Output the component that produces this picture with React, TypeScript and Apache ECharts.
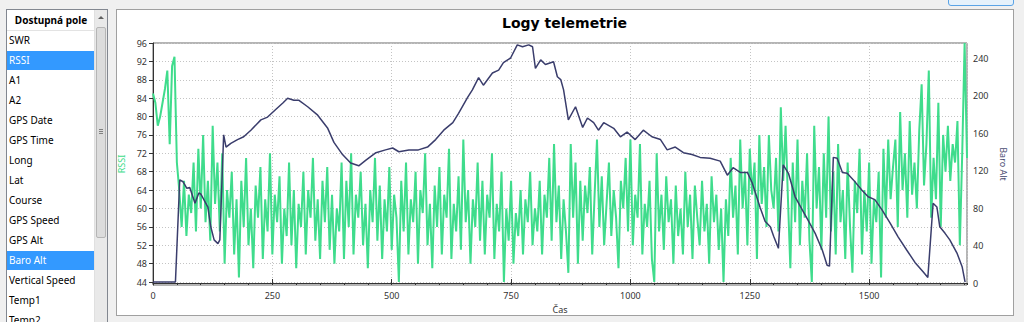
import React, { useEffect, useRef } from "react";
import * as echarts from "echarts";

// ---- data ----
const fields = ["SWR", "RSSI", "A1", "A2", "GPS Date", "GPS Time", "Long", "Lat", "Course", "GPS Speed", "GPS Alt", "Baro Alt", "Vertical Speed", "Temp1", "Temp2"];
const selectedFields = ["RSSI", "Baro Alt"];

const rssiStep = 5; // sampling interval of the RSSI log (time units)
const rssi = [
  85, 83, 78, 80, 83, 86, 90, 74, 91, 93, 70, 64, 56, 66, 54, 63, 59, 70, 55, 73,
  60, 76, 57, 66, 53, 78, 61, 70, 55, 72, 48, 64, 58, 68, 50, 62, 45, 66, 56, 71,
  52, 60, 47, 65, 58, 69, 49, 62, 55, 72, 50, 63, 57, 67, 48, 60, 54, 70, 52, 64,
  47, 61, 56, 68, 50, 64, 58, 71, 53, 62, 49, 66, 57, 69, 51, 63, 48, 60, 55, 70,
  49, 66, 56, 72, 50, 63, 58, 68, 52, 61, 47, 64, 57, 71, 53, 65, 49, 62, 55, 69,
  51, 63, 58, 44, 66, 55, 70, 50, 62, 57, 68, 48, 64, 59, 72, 52, 61, 47, 65, 56,
  69, 50, 63, 58, 73, 49, 61, 55, 67, 51, 75, 57, 64, 48, 62, 56, 70, 53, 66, 50,
  63, 58, 72, 49, 61, 55, 68, 44, 60, 53, 66, 48, 59, 54, 64, 50, 62, 57, 68, 52,
  60, 55, 66, 50, 63, 58, 71, 53, 74, 57, 65, 49, 62, 55, 46, 74, 58, 70, 48, 66,
  53, 65, 59, 69, 50, 63, 75, 56, 67, 52, 61, 70, 54, 64, 58, 47, 66, 60, 71, 55,
  75, 52, 63, 58, 74, 50, 61, 56, 66, 49, 44, 72, 55, 63, 51, 67, 57, 62, 48, 65,
  54, 60, 50, 68, 56, 63, 49, 65, 58, 52, 66, 55, 61, 48, 67, 57, 63, 51, 60, 44,
  62, 54, 71, 58, 65, 50, 75, 60, 68, 52, 73, 63, 70, 49, 76, 61, 69, 56, 76, 64,
  60, 71, 55, 82, 66, 78, 62, 47, 70, 57, 75, 52, 66, 58, 72, 53, 44, 78, 60, 69,
  51, 72, 58, 80, 55, 68, 50, 74, 57, 64, 49, 70, 56, 46, 66, 59, 73, 50, 64, 55,
  70, 48, 62, 57, 68, 45, 73, 58, 75, 62, 69, 75, 56, 81, 64, 72, 58, 79, 63, 70,
  60, 77, 87, 65, 74, 90, 58, 71, 62, 83, 56, 76, 68, 78, 66, 74, 70, 79, 52, 72, 96, 71,
];

const baroTime = [
  0, 20, 47, 56, 63, 71, 77, 88, 96, 100, 115, 121, 128, 136, 140, 148, 153, 163, 177, 190,
  205, 226, 240, 257, 272, 282, 295, 305, 324, 345, 366, 379, 397, 414, 431, 446, 467, 487, 502, 515,
  536, 556, 575, 592, 609, 628, 640, 659, 669, 682, 692, 711, 724, 734, 749, 763, 774, 787, 795, 801,
  812, 822, 839, 847, 854, 860, 870, 885, 900, 910, 923, 933, 944, 965, 979, 993, 1010, 1027, 1045, 1063,
  1077, 1094, 1111, 1129, 1146, 1167, 1188, 1203, 1215, 1230, 1245, 1255, 1272, 1282, 1293, 1300, 1310, 1320, 1331, 1345,
  1360, 1372, 1387, 1402, 1412, 1417, 1425, 1433, 1444, 1454, 1467, 1485, 1498, 1512, 1527, 1544, 1561, 1579, 1596, 1613,
  1623, 1634, 1642, 1648, 1659, 1669, 1684, 1695, 1701,
];
const baroAlt = [
  1, 1, 1, 110, 108, 101, 102, 85, 96, 95, 81, 60, 46, 42, 46, 158, 145, 149, 153, 156,
  163, 174, 177, 185, 192, 197, 195, 195, 188, 179, 165, 150, 137, 128, 125, 131, 139, 142, 144, 140,
  142, 142, 145, 153, 163, 171, 181, 198, 206, 219, 211, 224, 227, 235, 240, 254, 252, 254, 252, 229,
  238, 233, 236, 220, 217, 206, 174, 188, 166, 176, 171, 163, 171, 165, 156, 161, 153, 163, 156, 153,
  142, 145, 139, 137, 134, 133, 130, 115, 123, 118, 118, 107, 80, 66, 60, 50, 37, 126, 117, 92,
  78, 67, 53, 35, 19, 18, 134, 133, 118, 117, 110, 99, 92, 89, 78, 64, 49, 35, 22, 12,
  6, 85, 81, 60, 53, 46, 32, 17, 1,
];

const rssiTicks = [44, 48, 52, 56, 60, 64, 68, 72, 76, 80, 84, 88, 92, 96];
const baroTicks = [0, 40, 80, 120, 160, 200, 240];

const GREEN = "#3fdc8c";
const NAVY = "#3a3d6c";
const FONT = '"Noto Sans", sans-serif';

export default function App() {
  const ref = useRef<HTMLDivElement>(null);

  useEffect(() => {
    document.body.style.margin = "0";
    const chart = echarts.init(ref.current!, null, { renderer: "svg" });
    const labelStyle = { fontSize: 9, color: "#333", fontFamily: FONT };
    chart.setOption({
      animation: false,
      title: {
        text: "Logy telemetrie",
        left: 497,
        top: 11,
        textStyle: { fontFamily: '"DejaVu Sans", sans-serif', fontWeight: "bold", fontSize: 14, color: "#000" },
      },
      grid: { left: 153, right: 57, top: 43, bottom: 37, show: true, borderColor: "#6a6a6a", borderWidth: 1, backgroundColor: "transparent", containLabel: false },
      xAxis: [
        {
          type: "value",
          min: 0,
          max: 1705,
          interval: 250,
          name: "Čas",
          nameLocation: "middle",
          nameGap: 15,
          nameTextStyle: { fontSize: 9, color: "#333", fontFamily: FONT },
          axisLine: { lineStyle: { color: "#333", width: 1 } },
          axisTick: { inside: true, length: 4, lineStyle: { color: "#333" } },
          axisLabel: { ...labelStyle, margin: 6, showMaxLabel: false, formatter: (v: number) => String(v) },
          splitLine: { show: true, lineStyle: { type: [1, 2], color: "#c4c4c4" } },
        },
        {
          type: "value",
          min: 0,
          max: 1705,
          interval: 50,
          position: "bottom",
          axisLine: { show: false },
          axisTick: { inside: true, length: 2, lineStyle: { color: "#333" } },
          axisLabel: { show: false },
          splitLine: { show: false },
        },
      ],
      yAxis: [
        {
          type: "value",
          min: 43.35,
          max: 96,
          position: "left",
          name: "RSSI",
          nameLocation: "middle",
          nameGap: 26,
          nameTextStyle: { fontSize: 9, color: GREEN, fontFamily: FONT },
          axisLine: { show: true, lineStyle: { color: "#333" } },
          axisTick: { show: true, length: 4, customValues: rssiTicks, lineStyle: { color: "#333" } },
          axisLabel: { ...labelStyle, margin: 6, customValues: rssiTicks },
          splitLine: { show: true, lineStyle: { type: [1, 2], color: "#c4c4c4" } },
        },
        {
          type: "value",
          min: -2.1,
          max: 256,
          position: "right",
          name: "Baro Alt",
          nameLocation: "middle",
          nameGap: 32,
          nameRotate: -90,
          nameTextStyle: { fontSize: 9, color: "#4a4d72", fontFamily: FONT },
          axisLine: { show: false },
          axisTick: { show: false, customValues: baroTicks },
          axisLabel: { ...labelStyle, margin: 6, customValues: baroTicks },
          splitLine: { show: false },
        },
      ],
      series: [
        {
          name: "RSSI",
          type: "line",
          yAxisIndex: 0,
          showSymbol: false,
          data: rssi.map((v, i) => [i * rssiStep, v]),
          lineStyle: { color: GREEN, width: 2 },
          itemStyle: { color: GREEN },
          z: 2,
        },
        {
          name: "Baro Alt",
          type: "line",
          yAxisIndex: 1,
          showSymbol: false,
          data: baroTime.map((t, i) => [t, baroAlt[i]]),
          lineStyle: { color: NAVY, width: 1.5 },
          itemStyle: { color: NAVY },
          z: 3,
        },
      ],
    });
    return () => chart.dispose();
  }, []);

  return (
    <div style={{ position: "fixed", left: 0, top: 0, width: 1024, height: 322, background: "#f0f0f0", overflow: "hidden", fontFamily: FONT }}>
      {/* top-right button edge */}
      <div style={{ position: "absolute", left: 948, top: -6, width: 64, height: 10, border: "1px solid #5aa3e6", borderRadius: 3, background: "#e5f1fb" }} />
      {/* list of fields */}
      <div style={{ position: "absolute", left: 6, top: 9, width: 102, height: 330, border: "1px solid #828790", background: "#fff", boxSizing: "border-box" }}>
        <div style={{ position: "absolute", left: 0, top: 0, width: 88, height: 21, borderBottom: "1px solid #e3e3e3", boxSizing: "border-box", fontWeight: "bold", fontSize: 10, lineHeight: "20px", textAlign: "center", color: "#000" }}>
          Dostupná pole
        </div>
        {fields.map((f, i) => {
          const sel = selectedFields.includes(f);
          return (
            <div key={f} style={{ position: "absolute", left: 0, top: 21 + i * 20, width: 88, height: 19, background: sel ? "#3399ff" : "transparent", color: sel ? "#fff" : "#000", fontSize: 10, lineHeight: "19px", paddingLeft: 2, boxSizing: "border-box", whiteSpace: "nowrap" }}>
              {f}
            </div>
          );
        })}
        {/* scrollbar */}
        <div style={{ position: "absolute", right: 0, top: 0, width: 13, height: "100%", background: "#e9e9e9", borderLeft: "1px solid #e0e0e0", boxSizing: "border-box" }}>
          <div style={{ position: "absolute", left: 3, top: 6, width: 0, height: 0, borderLeft: "3px solid transparent", borderRight: "3px solid transparent", borderBottom: "3px solid #606060" }} />
          <div style={{ position: "absolute", left: 1, top: 17, width: 10, height: 211, background: "#dcdcdc", border: "1px solid #b5b5b5", borderRadius: 2, boxSizing: "border-box" }}>
            <div style={{ position: "absolute", left: 2, top: 101, width: 4, height: 1, background: "#808080" }} />
            <div style={{ position: "absolute", left: 2, top: 103, width: 4, height: 1, background: "#808080" }} />
            <div style={{ position: "absolute", left: 2, top: 105, width: 4, height: 1, background: "#808080" }} />
          </div>
        </div>
      </div>
      {/* chart panel frame */}
      <div style={{ position: "absolute", left: 116, top: 9, width: 898, height: 307, border: "1px solid #a0a0a0", background: "#fff", boxSizing: "border-box" }} />
      <div ref={ref} style={{ position: "absolute", left: 0, top: 0, width: 1024, height: 322 }} />
    </div>
  );
}
